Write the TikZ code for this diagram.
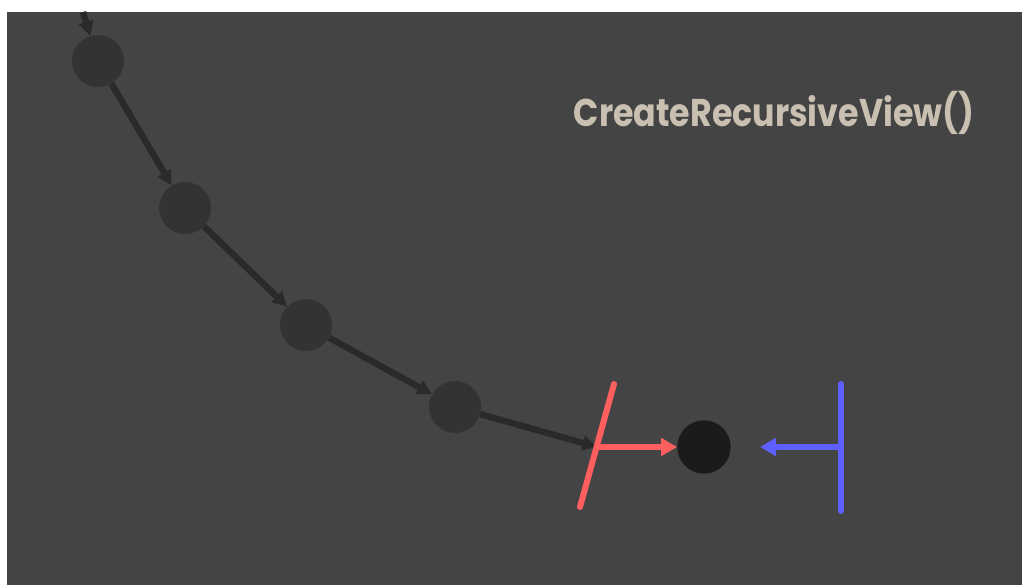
\documentclass[tikz,border=0pt]{standalone}
\usepackage{fontspec}
\setmainfont{Poppins}
\usetikzlibrary{arrows.meta}
\definecolor{bgGrey}{HTML}{444444}
\definecolor{nodeGrey}{HTML}{333333}
\definecolor{edgeGrey}{HTML}{2A2A2A}
\definecolor{leafBlack}{HTML}{1B1B1B}
\definecolor{titleBeige}{HTML}{C9C0B1}
\definecolor{cutRed}{HTML}{FF5F5F}
\definecolor{cutBlue}{HTML}{5F5FFF}

\begin{document}
\begin{tikzpicture}[x=0.75pt,y=-0.75pt,
  dot/.style={circle, fill=nodeGrey, minimum size=39pt, inner sep=0pt},
  edge/.style={draw=edgeGrey, line width=4.8pt, -{Triangle[length=11pt,width=11pt]}},
  cut/.style={line width=4.5pt, line cap=round},
  title/.style={text=titleBeige, font=\bfseries\fontsize{29}{34}\selectfont, xscale=0.86}]
\useasboundingbox (0,0) rectangle (1022,585);
\fill[white] (0,0) rectangle (1022,585);
\fill[bgGrey] (7,12) rectangle (1022,585);

% recursion chain
\coordinate (top) at (83,12);
\node[dot] (n1) at (98,61) {};
\node[dot] (n2) at (185,208) {};
\node[dot] (n3) at (306,325) {};
\node[dot] (n4) at (455,407) {};
\node[dot, fill=leafBlack, minimum size=40pt] (leaf) at (704,447) {};
\draw[edge] (top) -- (n1);
\draw[edge] (n1) -- (n2);
\draw[edge] (n2) -- (n3);
\draw[edge] (n3) -- (n4);

% red and blue bars
\coordinate (redTop) at (614,384); \coordinate (redBot) at (580,507);
\coordinate (redHit) at (597,447);
\coordinate (blueTop) at (841,384); \coordinate (blueBot) at (841,511);
\coordinate (blueHit) at (841,447); \coordinate (blueEnd) at (760,447);
\draw[edge] (n4) -- (redHit);
\draw[cut, cutRed] (redTop) -- (redBot);
\draw[cut, cutBlue] (blueTop) -- (blueBot);
\draw[cutRed, line width=4.5pt, -{Triangle[length=12pt,width=13pt]}] (redHit) -- (leaf);
\draw[cutBlue, line width=4.5pt, -{Triangle[length=12pt,width=13pt]}] (blueHit) -- (blueEnd);

\node[title] (label) at (774,113) {CreateRecursiveView()};
\end{tikzpicture}
\end{document}
